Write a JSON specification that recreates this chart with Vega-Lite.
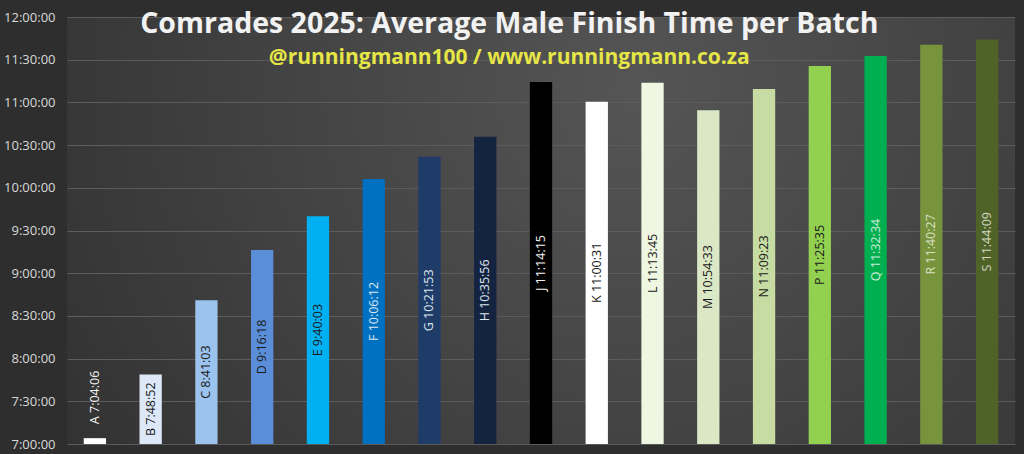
{
  "$schema": "https://vega.github.io/schema/vega-lite/v6.json",
  "width": 948,
  "height": 427,
  "autosize": {"type": "none"},
  "padding": {"left": 67, "top": 17, "right": 9, "bottom": 10},
  "background": "#2e2e2e",
  "title": {
    "text": "Comrades 2025: Average Male Finish Time per Batch",
    "subtitle": "@runningmann100 / www.runningmann.co.za",
    "frame": "bounds",
    "anchor": "middle",
    "offset": -57,
    "color": "#f2f2f2",
    "font": "Open Sans",
    "fontSize": 28.5,
    "fontWeight": "bold",
    "subtitleColor": "#e6e646",
    "subtitleFont": "Open Sans",
    "subtitleFontSize": 21,
    "subtitleFontWeight": "bold",
    "subtitlePadding": 9
  },
  "data": {
    "values": [
      {"batch": "A", "time": "2025-06-08T07:04:06Z"},
      {"batch": "B", "time": "2025-06-08T07:48:52Z"},
      {"batch": "C", "time": "2025-06-08T08:41:03Z"},
      {"batch": "D", "time": "2025-06-08T09:16:18Z"},
      {"batch": "E", "time": "2025-06-08T09:40:03Z"},
      {"batch": "F", "time": "2025-06-08T10:06:12Z"},
      {"batch": "G", "time": "2025-06-08T10:21:53Z"},
      {"batch": "H", "time": "2025-06-08T10:35:56Z"},
      {"batch": "J", "time": "2025-06-08T11:14:15Z"},
      {"batch": "K", "time": "2025-06-08T11:00:31Z"},
      {"batch": "L", "time": "2025-06-08T11:13:45Z"},
      {"batch": "M", "time": "2025-06-08T10:54:33Z"},
      {"batch": "N", "time": "2025-06-08T11:09:23Z"},
      {"batch": "P", "time": "2025-06-08T11:25:35Z"},
      {"batch": "Q", "time": "2025-06-08T11:32:34Z"},
      {"batch": "R", "time": "2025-06-08T11:40:27Z"},
      {"batch": "S", "time": "2025-06-08T11:44:09Z"}
    ],
    "format": {"parse": {"time": "date"}}
  },
  "transform": [
    {"calculate": "datum.batch + ' ' + utcFormat(datum.time, '%-H:%M:%S')", "as": "label"},
    {"calculate": "(time(datum.time) + utc(2025, 5, 8, 7, 0, 0, 0)) / 2", "as": "mid"}
  ],
  "encoding": {
    "x": {
      "field": "batch",
      "type": "nominal",
      "sort": null,
      "axis": null,
      "scale": {"paddingInner": 0.6, "paddingOuter": 0.3}
    }
  },
  "layer": [
    {
      "mark": {"type": "bar"},
      "encoding": {
        "y": {
          "field": "time",
          "type": "temporal",
          "title": null,
          "scale": {
            "type": "utc",
            "domain": [
              {"year": 2025, "month": 6, "date": 8, "hours": 7, "utc": true},
              {"year": 2025, "month": 6, "date": 8, "hours": 12, "utc": true}
            ]
          },
          "axis": {
            "format": "%-H:%M:%S",
            "tickCount": 10,
            "domain": false,
            "ticks": false,
            "labelPadding": 12,
            "labelColor": "#d9d9d9",
            "labelFont": "Open Sans",
            "labelFontSize": 13,
            "grid": true,
            "gridColor": "#5c5c5c",
            "gridWidth": 1
          }
        },
        "y2": {"datum": {"year": 2025, "month": 6, "date": 8, "hours": 7, "utc": true}},
        "color": {
          "field": "batch",
          "type": "nominal",
          "legend": null,
          "scale": {
            "domain": ["A", "B", "C", "D", "E", "F", "G", "H", "J", "K", "L", "M", "N", "P", "Q", "R", "S"],
            "range": ["#ffffff", "#dce8f8", "#9cc2ee", "#5b8ed8", "#00b0f0", "#0070c0", "#1f3b68", "#14233f", "#000000", "#ffffff", "#eff6e2", "#dbe8c5", "#c6dca2", "#92d050", "#00b050", "#77933c", "#4f6228"]
          }
        }
      }
    },
    {
      "transform": [{"filter": "datum.batch != 'A'"}],
      "mark": {"type": "text", "angle": 270, "align": "center", "baseline": "middle", "font": "Open Sans", "fontSize": 12.5},
      "encoding": {
        "y": {"field": "mid", "type": "temporal"},
        "text": {"field": "label"},
        "fill": {
          "field": "batch",
          "type": "nominal",
          "legend": null,
          "scale": {
            "domain": ["B", "C", "D", "E", "F", "G", "H", "J", "K", "L", "M", "N", "P", "Q", "R", "S"],
            "range": ["#1a1a1a", "#1a1a1a", "#1a1a1a", "#1a1a1a", "#dde6f0", "#dde6f0", "#dde6f0", "#f2f2f2", "#1a1a1a", "#1a1a1a", "#1a1a1a", "#1a1a1a", "#1a1a1a", "#c8ecd6", "#d6e0c4", "#d0d8c0"]
          }
        }
      }
    },
    {
      "transform": [{"filter": "datum.batch == 'A'"}],
      "mark": {"type": "text", "angle": 270, "align": "left", "baseline": "middle", "font": "Open Sans", "fontSize": 12.5, "dx": 14, "color": "#f2f2f2"},
      "encoding": {
        "y": {"field": "time", "type": "temporal"},
        "text": {"field": "label"}
      }
    }
  ],
  "config": {
    "view": {
      "stroke": null,
      "fill": {
        "gradient": "radial",
        "x1": 0.6, "y1": 0.35, "r1": 0,
        "x2": 0.6, "y2": 0.35, "r2": 0.75,
        "stops": [
          {"offset": 0, "color": "#555555"},
          {"offset": 1, "color": "#303030"}
        ]
      }
    }
  }
}
